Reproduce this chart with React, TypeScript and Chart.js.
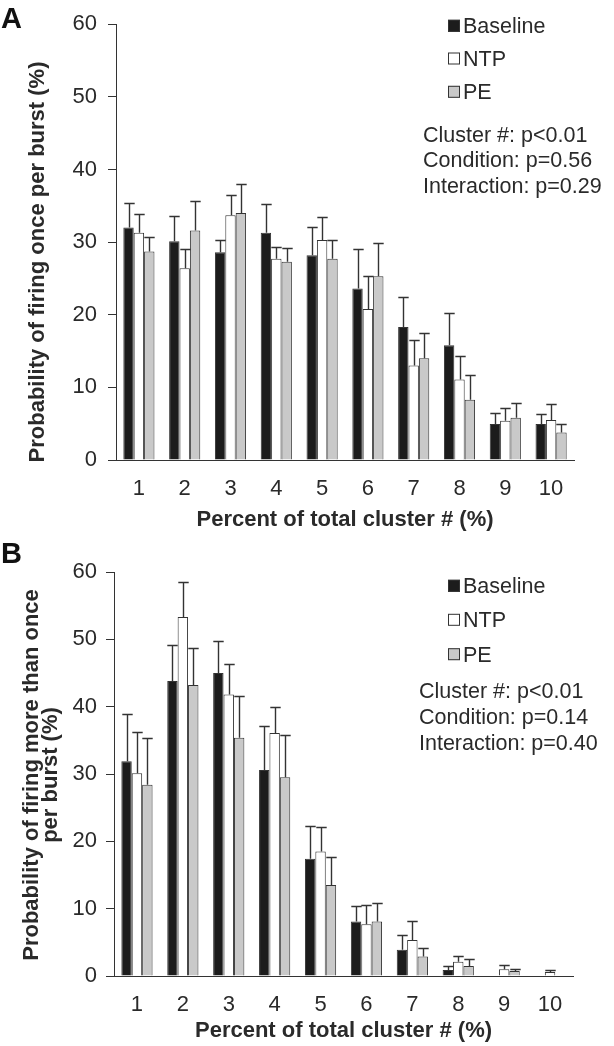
import React, { useEffect, useRef } from "react";
import { Chart, registerables } from "chart.js";

Chart.register(...registerables);

// ---------- data ----------
const CATEGORIES = ["1", "2", "3", "4", "5", "6", "7", "8", "9", "10"];
const SERIES_NAMES = ["Baseline", "NTP", "PE"];
const Y_TICKS_MAX = 60;

// Panel A: probability of firing once per burst (%)
const A_BASELINE = [32.0, 30.1, 28.6, 31.3, 28.2, 23.6, 18.3, 15.8, 4.95, 4.95];
const A_BASELINE_ERR = [3.4, 3.5, 1.7, 4.0, 3.9, 5.4, 4.2, 4.4, 1.55, 1.45];
const A_NTP = [31.3, 26.4, 33.7, 27.7, 30.3, 20.8, 13.0, 11.1, 5.4, 5.5];
const A_NTP_ERR = [2.6, 2.7, 2.8, 1.6, 3.1, 4.5, 3.5, 3.2, 1.7, 2.2];
const A_PE = [28.7, 31.6, 34.0, 27.3, 27.7, 25.3, 14.0, 8.3, 5.8, 3.8];
const A_PE_ERR = [2.0, 4.0, 4.0, 1.9, 2.6, 4.6, 3.5, 3.4, 2.1, 1.15];
const A_STATS = ["Cluster #: p<0.01", "Condition: p=0.56", "Interaction: p=0.29"];
const A_Y_TITLE = ["Probability of firing once per burst (%)"];

// Panel B: probability of firing more than once per burst (%)
const B_BASELINE = [31.9, 43.8, 45.0, 30.6, 17.4, 8.1, 3.9, 0.9, 0, 0];
const B_BASELINE_ERR = [7.0, 5.4, 4.8, 6.5, 4.9, 2.3, 2.2, 0.6, 0, 0];
const B_NTP = [30.1, 53.3, 41.8, 36.1, 18.5, 7.7, 5.35, 2.1, 1.0, 0.6];
const B_NTP_ERR = [6.1, 5.2, 4.6, 3.9, 3.6, 2.8, 2.75, 0.9, 0.7, 0.25];
const B_PE = [28.4, 43.2, 35.4, 29.5, 13.5, 8.1, 2.9, 1.5, 0.75, 0];
const B_PE_ERR = [6.9, 5.5, 6.2, 6.3, 4.1, 2.7, 1.3, 1.0, 0.3, 0];
const B_STATS = ["Cluster #: p<0.01", "Condition: p=0.14", "Interaction: p=0.40"];
const B_Y_TITLE = ["Probability of firing more than once", "per burst (%)"];

const X_TITLE = "Percent of total cluster # (%)";

// ---------- styles ----------
const FONT = '"Liberation Sans", Arial, Helvetica, sans-serif';
const TEXT = "#2a2a2a";
const EDGE = "#333333";
const FILLS = ["#1c1c1c", "#ffffff", "#c9c9c9"];

type PanelCfg = {
  letter: string;
  height: number;
  values: number[][];
  errs: number[][];
  stats: string[];
  yTitle: string[];
  layout: {
    top: number;
    right: number;
    axisLeft: number;
    xAxisHeight: number;
    yTickPad: number;
    xTitleBottomPad: number;
    letterBaseline: number;
    legendBaselines: number[];
    legendX: number;
    statsX: number;
    statsBaselines: number[];
    yTitleBaselines: number[];
    yTitleCenter: number;
  };
};

const decorPlugin = {
  id: "panelDecor",
  afterDatasetsDraw(chart: any, _args: any, opts: any) {
    const ctx = chart.ctx;
    const yScale = chart.scales.y;
    ctx.save();
    ctx.strokeStyle = EDGE;
    ctx.lineWidth = 1.4;
    opts.errs.forEach((errArr: number[], di: number) => {
      const meta = chart.getDatasetMeta(di);
      const vals = chart.data.datasets[di].data as number[];
      meta.data.forEach((el: any, i: number) => {
        const e = errArr[i];
        const v = vals[i];
        if (!e) return;
        const x = Math.round(el.x) + 0.5;
        const w = el.width;
        const yb = yScale.getPixelForValue(v);
        const yt = Math.round(yScale.getPixelForValue(v + e)) + 0.5;
        ctx.beginPath();
        ctx.moveTo(x, yb);
        ctx.lineTo(x, yt);
        ctx.moveTo(x - w / 2, yt);
        ctx.lineTo(x + w / 2, yt);
        ctx.stroke();
      });
    });
    ctx.restore();
  },
  afterDraw(chart: any, _args: any, opts: any) {
    const ctx = chart.ctx;
    const L = opts.layout;
    ctx.save();
    // panel letter
    ctx.fillStyle = "#111";
    ctx.font = `bold 29px ${FONT}`;
    ctx.textAlign = "left";
    ctx.textBaseline = "alphabetic";
    ctx.fillText(opts.letter, 1, L.letterBaseline);

    // legend
    ctx.font = `21.5px ${FONT}`;
    opts.names.forEach((name: string, i: number) => {
      const b = L.legendBaselines[i];
      const sq = 12;
      const sx = L.legendX;
      const sy = b - 13.5;
      ctx.fillStyle = FILLS[i];
      ctx.fillRect(sx, sy, sq, sq);
      ctx.strokeStyle = EDGE;
      ctx.lineWidth = 1;
      ctx.strokeRect(sx + 0.5, sy + 0.5, sq - 1, sq - 1);
      ctx.fillStyle = TEXT;
      ctx.fillText(name, sx + 15, b);
    });

    // stats
    ctx.font = `21.5px ${FONT}`;
    ctx.fillStyle = TEXT;
    opts.stats.forEach((s: string, i: number) => {
      ctx.fillText(s, L.statsX, L.statsBaselines[i]);
    });

    // y title
    ctx.font = `bold 22px ${FONT}`;
    ctx.fillStyle = TEXT;
    ctx.textAlign = "center";
    opts.yTitle.forEach((t: string, i: number) => {
      ctx.save();
      ctx.translate(L.yTitleBaselines[i], L.yTitleCenter);
      ctx.rotate(-Math.PI / 2);
      ctx.fillText(t, 0, 0);
      ctx.restore();
    });
    ctx.restore();
  },
};

function Panel({ cfg }: { cfg: PanelCfg }) {
  const ref = useRef<HTMLCanvasElement | null>(null);
  useEffect(() => {
    if (!ref.current) return;
    const L = cfg.layout;
    const chart = new Chart(ref.current, {
      type: "bar",
      data: {
        labels: CATEGORIES,
        datasets: SERIES_NAMES.map((name, i) => ({
          label: name,
          data: cfg.values[i],
          backgroundColor: FILLS[i],
          borderColor: EDGE,
          borderWidth: 1,
          borderSkipped: "start",
          categoryPercentage: 0.68,
          barPercentage: 1.0,
        })),
      },
      options: {
        responsive: false,
        animation: false,
        devicePixelRatio: 1,
        layout: { padding: { top: L.top, right: L.right, left: 0, bottom: 0 } },
        plugins: {
          legend: { display: false },
          tooltip: { enabled: false },
          title: { display: false },
          panelDecor: {
            letter: cfg.letter,
            names: SERIES_NAMES,
            errs: cfg.errs,
            stats: cfg.stats,
            yTitle: cfg.yTitle,
            layout: L,
          },
        } as any,
        scales: {
          x: {
            offset: true,
            grid: { display: false, drawTicks: false },
            border: { display: true, color: EDGE, width: 1 },
            ticks: {
              color: TEXT,
              font: { family: FONT, size: 22 },
              padding: 16,
              autoSkip: false,
              maxRotation: 0,
            },
            title: {
              display: true,
              text: X_TITLE,
              color: TEXT,
              font: { family: FONT, size: 22, weight: "bold" },
              padding: { top: 0, bottom: L.xTitleBottomPad },
            },
            afterFit: (s: any) => {
              s.height = L.xAxisHeight;
            },
          },
          y: {
            min: 0,
            max: Y_TICKS_MAX,
            grid: {
              drawOnChartArea: false,
              drawTicks: true,
              tickLength: 8,
              color: EDGE,
              lineWidth: 1,
            },
            border: { display: true, color: EDGE, width: 1 },
            ticks: {
              stepSize: 10,
              color: TEXT,
              font: { family: FONT, size: 22 },
              padding: L.yTickPad,
            },
            afterFit: (s: any) => {
              s.width = L.axisLeft;
            },
          },
        },
      },
      plugins: [decorPlugin as any],
    });
    return () => chart.destroy();
  }, [cfg]);
  return (
    <canvas
      ref={ref}
      width={614}
      height={cfg.height}
      style={{ display: "block", width: 614, height: cfg.height }}
    />
  );
}

const PANEL_A: PanelCfg = {
  letter: "A",
  height: 540,
  values: [A_BASELINE, A_NTP, A_PE],
  errs: [A_BASELINE_ERR, A_NTP_ERR, A_PE_ERR],
  stats: A_STATS,
  yTitle: A_Y_TITLE,
  layout: {
    top: 19.5,
    right: 40,
    axisLeft: 116,
    xAxisHeight: 80,
    yTickPad: 11,
    xTitleBottomPad: 7,
    letterBaseline: 28,
    legendBaselines: [33.3, 66, 99.3],
    legendX: 448,
    statsX: 423,
    statsBaselines: [141.5, 167, 193],
    yTitleBaselines: [43.5],
    yTitleCenter: 262,
  },
};

const PANEL_B: PanelCfg = {
  letter: "B",
  height: 506,
  values: [B_BASELINE, B_NTP, B_PE],
  errs: [B_BASELINE_ERR, B_NTP_ERR, B_PE_ERR],
  stats: B_STATS,
  yTitle: B_Y_TITLE,
  layout: {
    top: 32,
    right: 41,
    axisLeft: 114,
    xAxisHeight: 70,
    yTickPad: 9,
    xTitleBottomPad: 2,
    letterBaseline: 22.5,
    legendBaselines: [53.3, 87.3, 121.7],
    legendX: 448,
    statsX: 419,
    statsBaselines: [158.3, 184.3, 210],
    yTitleBaselines: [37.5, 56.5],
    yTitleCenter: 235,
  },
};

export default function App() {
  return (
    <div
      style={{
        position: "absolute",
        left: 0,
        top: 0,
        width: 614,
        height: 1046,
        background: "#fff",
      }}
    >
      <Panel cfg={PANEL_A} />
      <Panel cfg={PANEL_B} />
    </div>
  );
}
